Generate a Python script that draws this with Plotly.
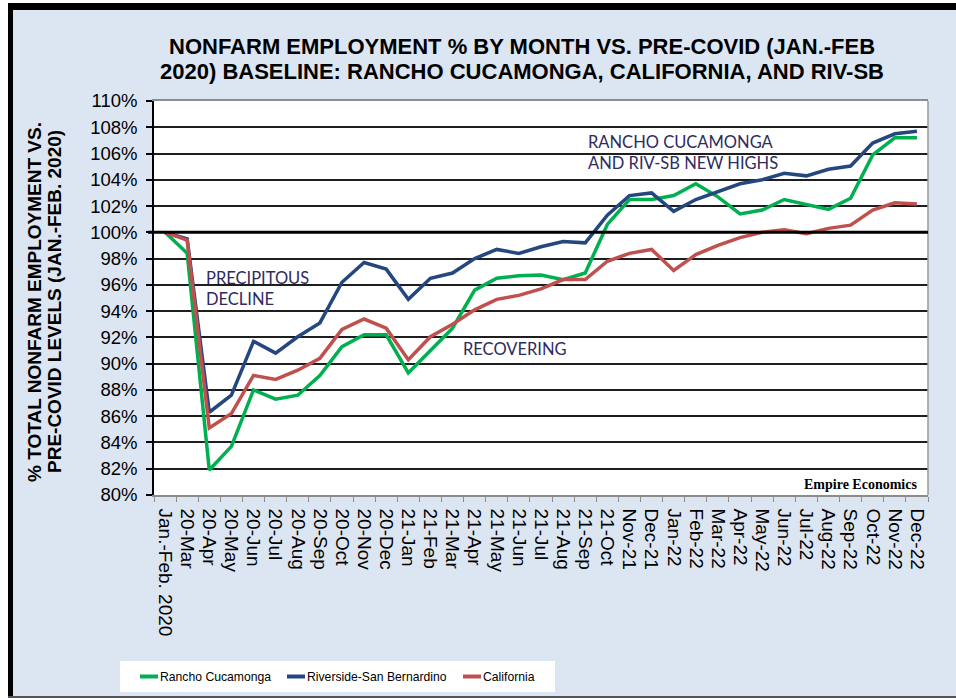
import plotly.graph_objects as go

categories = ["Jan.-Feb. 2020", "20-Mar", "20-Apr", "20-May", "20-Jun", "20-Jul", "20-Aug",
              "20-Sep", "20-Oct", "20-Nov", "20-Dec", "21-Jan", "21-Feb", "21-Mar", "21-Apr",
              "21-May", "21-Jun", "21-Jul", "21-Aug", "21-Sep", "21-Oct", "Nov-21", "Dec-21",
              "Jan-22", "Feb-22", "Mar-22", "Apr-22", "May-22", "Jun-22", "Jul-22", "Aug-22",
              "Sep-22", "Oct-22", "Nov-22", "Dec-22"]

rancho = [100.0, 98.4, 81.9, 83.7, 88.0, 87.3, 87.6, 89.1, 91.3, 92.2, 92.2, 89.3, 91.0, 92.7,
          95.6, 96.5, 96.7, 96.75, 96.4, 96.9, 100.6, 102.5, 102.5, 102.8, 103.7, 102.7, 101.4,
          101.7, 102.5, 102.1, 101.75, 102.6, 105.9, 107.2, 107.2]

riv_sb = [100.0, 99.5, 86.3, 87.6, 91.7, 90.8, 92.05, 93.1, 96.2, 97.7, 97.2, 94.9, 96.5, 96.9,
          98.0, 98.7, 98.4, 98.9, 99.3, 99.2, 101.3, 102.8, 103.0, 101.6, 102.5, 103.1, 103.7,
          104.0, 104.5, 104.3, 104.8, 105.05, 106.8, 107.5, 107.7]

california = [100.0, 99.4, 85.1, 86.2, 89.1, 88.8, 89.5, 90.4, 92.6, 93.4, 92.7, 90.3, 92.05, 93.0,
              94.1, 94.9, 95.2, 95.7, 96.4, 96.4, 97.8, 98.4, 98.7, 97.1, 98.3, 99.0, 99.6,
              100.0, 100.2, 99.9, 100.3, 100.55, 101.7, 102.25, 102.15]

series_names = ["Rancho Cucamonga", "Riverside-San Bernardino", "California"]
series_colors = ["#00B050", "#24477F", "#C0504D"]
y_ticks = list(range(80, 111, 2))
title_lines = ["NONFARM EMPLOYMENT % BY MONTH VS. PRE-COVID (JAN.-FEB",
               "2020) BASELINE: RANCHO CUCAMONGA, CALIFORNIA, AND RIV-SB"]
ytitle_lines = ["% TOTAL NONFARM EMPLOYMENT VS.", "PRE-COVID LEVELS (JAN.-FEB. 2020)"]

# plot area in pixels
L, R, T, B = 154, 928, 101, 495
W, H = 956, 698


def px(x):
    return (x - L) / (R - L)


def py(y):
    return (B - y) / (B - T)


fig = go.Figure()
for name, vals, col in zip(series_names, [rancho, riv_sb, california], series_colors):
    fig.add_trace(go.Scatter(x=categories, y=vals, mode="lines", name=name, showlegend=False,
                             line=dict(color=col, width=3.5)))

shapes = [
    dict(type="rect", xref="paper", yref="paper", x0=px(0), x1=px(8), y0=py(H), y1=py(0),
         fillcolor="white", line_width=0, layer="below"),
    dict(type="rect", xref="paper", yref="paper", x0=px(0), x1=px(W), y0=py(3), y1=py(0),
         fillcolor="white", line_width=0, layer="below"),
    dict(type="line", xref="paper", yref="paper", x0=px(10.5), x1=px(10.5), y0=py(3), y1=py(H),
         line=dict(color="black", width=5)),
    dict(type="line", xref="paper", yref="paper", x0=px(8), x1=px(W), y0=py(6.5), y1=py(6.5),
         line=dict(color="black", width=7)),
    dict(type="line", xref="paper", yref="paper", x0=px(8), x1=px(W), y0=py(697), y1=py(697),
         line=dict(color="#555555", width=2)),
    dict(type="line", xref="paper", yref="paper", x0=1, x1=1, y0=0, y1=1,
         line=dict(color="#9a9a9a", width=1.5)),
    dict(type="line", xref="paper", yref="y", x0=px(L - 6), x1=1, y0=100, y1=100,
         line=dict(color="black", width=3)),
    # legend box
    dict(type="rect", xref="paper", yref="paper", x0=px(120), x1=px(555), y0=py(692), y1=py(661),
         fillcolor="white", line_width=0),
]

ann_font = dict(family="Lato, Open Sans, sans-serif", size=16.5, color="#2E2B60")
title_font = dict(family="Liberation Sans, Arial, sans-serif", size=22, color="black")
ytitle_font = dict(family="Liberation Sans, Arial, sans-serif", size=19, color="black")
annotations = [
    dict(xref="paper", yref="paper", x=px(522), y=py(47), xanchor="center", yanchor="middle",
         text=f"<b>{title_lines[0]}</b>", showarrow=False, font=title_font),
    dict(xref="paper", yref="paper", x=px(522), y=py(72), xanchor="center", yanchor="middle",
         text=f"<b>{title_lines[1]}</b>", showarrow=False, font=title_font),
    dict(xref="paper", yref="paper", x=px(34), y=py(302), xanchor="center", yanchor="middle",
         textangle=-90, text=f"<b>{ytitle_lines[0]}</b>", showarrow=False, font=ytitle_font),
    dict(xref="paper", yref="paper", x=px(54), y=py(302), xanchor="center", yanchor="middle",
         textangle=-90, text=f"<b>{ytitle_lines[1]}</b>", showarrow=False, font=ytitle_font),
    dict(xref="paper", yref="paper", x=px(204), y=py(288), xanchor="left", yanchor="middle",
         text="PRECIPITOUS<br>DECLINE", align="left", showarrow=False, font=ann_font),
    dict(xref="paper", yref="paper", x=px(461), y=py(349), xanchor="left", yanchor="middle",
         text="RECOVERING", align="left", showarrow=False, font=ann_font),
    dict(xref="paper", yref="paper", x=px(586), y=py(152.5), xanchor="left", yanchor="middle",
         text="RANCHO CUCAMONGA<br>AND RIV-SB NEW HIGHS", align="left", showarrow=False, font=ann_font),
    dict(xref="paper", yref="paper", x=px(919), y=py(484), xanchor="right", yanchor="middle",
         text="<b>Empire Economics</b>", showarrow=False,
         font=dict(family="Liberation Serif, DejaVu Serif, serif", size=14, color="black")),
]

# legend entries (short line sample + label)
legend_sample_x = [140, 287, 463]
legend_font = dict(family="Liberation Sans, Arial, sans-serif", size=12.2, color="black")
for name, col, sx in zip(series_names, series_colors, legend_sample_x):
    shapes.append(dict(type="line", xref="paper", yref="paper", x0=px(sx), x1=px(sx + 18),
                       y0=py(676.5), y1=py(676.5), line=dict(color=col, width=4)))
    annotations.append(dict(xref="paper", yref="paper", x=px(sx + 18), y=py(676.5),
                            xanchor="left", yanchor="middle", text=name, showarrow=False,
                            font=legend_font))

fig.update_layout(
    width=W, height=H,
    margin=dict(l=L, r=W - R, t=T, b=H - B, pad=0),
    paper_bgcolor="#DCE6F2",
    plot_bgcolor="white",
    showlegend=False,
    shapes=shapes,
    annotations=annotations,
    font=dict(family="Liberation Sans, Arial, sans-serif", color="black"),
)

fig.update_xaxes(
    type="category", range=[-0.5, len(categories) - 0.5],
    tickmode="array", tickvals=categories, ticktext=categories,
    tickangle=90, tickfont=dict(size=19, family="Liberation Sans, Arial, sans-serif", color="black"),
    ticklabelstandoff=8,
    showgrid=False, showline=True, linecolor="#8c8c8c", linewidth=1.5, mirror=True,
    ticks="outside", ticklen=5, tickcolor="#8c8c8c", tickwidth=1.2, tickson="boundaries",
    zeroline=False,
)
fig.update_yaxes(
    range=[80, 110], tickmode="array", tickvals=y_ticks, ticktext=[f"{v}%" for v in y_ticks],
    tickfont=dict(size=18.5, family="Liberation Sans, Arial, sans-serif", color="black"),
    ticklabelstandoff=5,
    showgrid=True, gridcolor="#1e1e1e", gridwidth=1.5,
    showline=True, linecolor="black", linewidth=1.5,
    ticks="outside", ticklen=6, tickcolor="black", tickwidth=1.5,
    zeroline=False,
)

fig.write_html("out.html", config={"displayModeBar": False},
               post_script="document.body.style.margin='0px';document.body.style.overflow='hidden';")
